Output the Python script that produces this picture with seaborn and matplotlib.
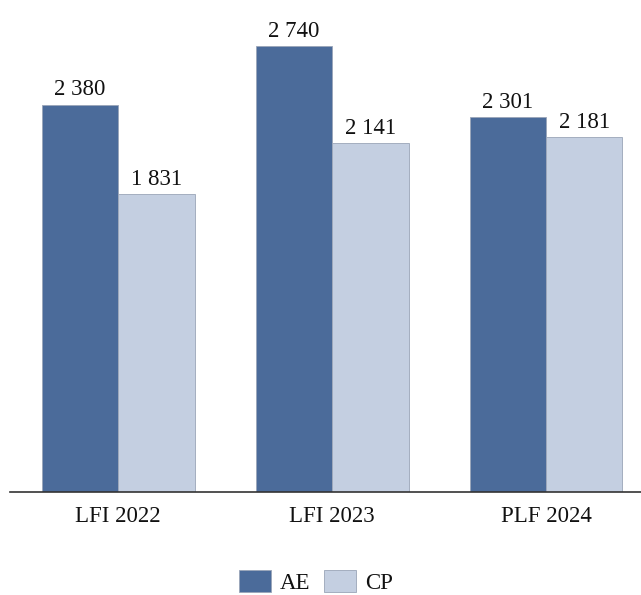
import matplotlib
matplotlib.use("Agg")
import matplotlib.pyplot as plt
import seaborn as sns
import pandas as pd

# Values per scenario
categories = ["LFI 2022", "LFI 2023", "PLF 2024"]
series_names = ["AE", "CP"]
ae_values = [2380, 2740, 2301]
cp_values = [1831, 2141, 2181]

colors = {"AE": "#4b6b9a", "CP": "#c4cfe1"}

df = pd.DataFrame({
    "categorie": categories * 2,
    "serie": [series_names[0]] * len(categories) + [series_names[1]] * len(categories),
    "valeur": ae_values + cp_values,
})

sns.set_theme(style="white")
plt.rcParams["font.family"] = ["Liberation Serif", "DejaVu Serif"]
plt.rcParams["text.color"] = "#111111"

fig = plt.figure(figsize=(6.41, 5.95), dpi=100)
ax = fig.add_axes([10 / 641, 1 - 492 / 595, 631 / 641, 492 / 595])

sns.barplot(data=df, x="categorie", y="valeur", hue="serie",
            palette=colors, saturation=1, width=0.715, ax=ax,
            edgecolor="#9aa5b8", linewidth=0.6, legend=True)

for container in ax.containers:
    labels = [f"{int(v):,}".replace(",", " ") for v in container.datavalues]
    ax.bar_label(container, labels=labels, padding=3, fontsize=16.5, color="#111111")

ax.set_xlim(-0.505, 2.444)
ax.set_ylim(0, 3022)
ax.set_xlabel("")
ax.set_ylabel("")
ax.set_yticks([])
ax.tick_params(axis="x", length=0, pad=10, labelsize=16.5, labelcolor="#111111")

for side in ["top", "right", "left"]:
    ax.spines[side].set_visible(False)
ax.spines["bottom"].set_color("#333333")
ax.spines["bottom"].set_linewidth(1.2)

handles, labels = ax.get_legend_handles_labels()
ax.get_legend().remove()
fig.legend(handles, labels, loc="center",
           bbox_to_anchor=(316 / 641, 1 - 582 / 595),
           ncol=2, frameon=False, fontsize=16.5, borderpad=0,
           handlelength=1.4, handleheight=1.05, handletextpad=0.4,
           columnspacing=0.6)

fig.savefig("out.png", dpi=100)
